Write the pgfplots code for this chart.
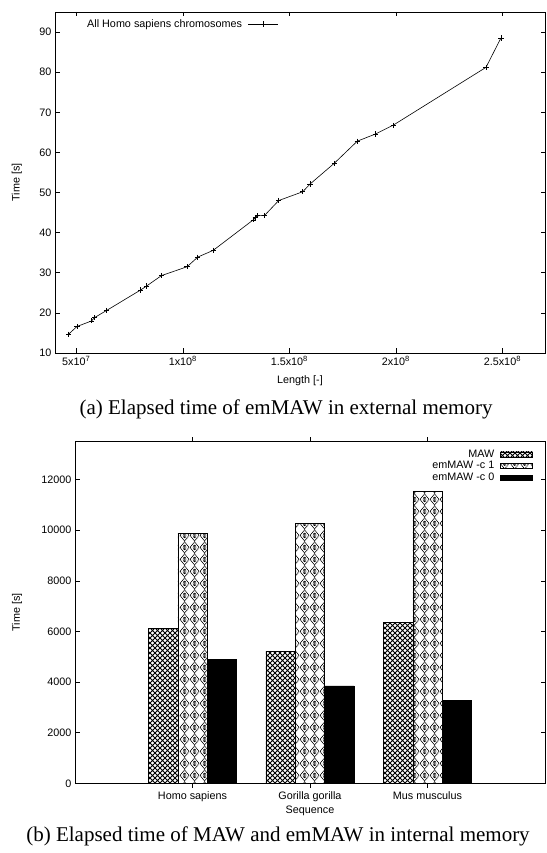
\documentclass[border=0pt]{standalone}
\usepackage{fontspec}
\setmainfont{Liberation Serif}
\newfontfamily\hv{Liberation Sans}
\usepackage{pgfplots}
\pgfplotsset{compat=1.18}
\usetikzlibrary{patterns}

% diagonal cross-hatch used for MAW
\pgfdeclarepatternformonly{xhatch}{\pgfqpoint{-1pt}{-1pt}}{\pgfqpoint{6pt}{6pt}}{\pgfqpoint{5pt}{5pt}}{%
  \pgfsetlinewidth{0.9pt}%
  \pgfpathmoveto{\pgfqpoint{0pt}{0pt}}\pgfpathlineto{\pgfqpoint{5pt}{5pt}}%
  \pgfpathmoveto{\pgfqpoint{0pt}{5pt}}\pgfpathlineto{\pgfqpoint{5pt}{0pt}}%
  \pgfusepath{stroke}}

% dotted diamonds used for emMAW -c 1
\pgfdeclarepatternformonly{dmd}{\pgfqpoint{0pt}{0pt}}{\pgfqpoint{10pt}{12pt}}{\pgfqpoint{10pt}{12pt}}{%
  \pgfsetlinewidth{1pt}%
  \pgfsetdash{{0.9pt}{0.8pt}}{0pt}%
  \pgfpathmoveto{\pgfqpoint{5pt}{0pt}}%
  \pgfpathlineto{\pgfqpoint{10pt}{6pt}}%
  \pgfpathlineto{\pgfqpoint{5pt}{12pt}}%
  \pgfpathlineto{\pgfqpoint{0pt}{6pt}}%
  \pgfpathclose
  \pgfusepath{stroke}%
  \pgfsetdash{}{0pt}%
  \pgfsetlinewidth{0.5pt}%
  \pgfpathellipse{\pgfqpoint{5pt}{6pt}}{\pgfqpoint{1.6pt}{0pt}}{\pgfqpoint{0pt}{2.6pt}}%
  \pgfpathmoveto{\pgfqpoint{5pt}{3.6pt}}\pgfpathlineto{\pgfqpoint{5pt}{8.4pt}}%
  \pgfusepath{stroke}}

\pgfplotsset{
  gp/.style={
    scale only axis,
    anchor=south west,
    axis line style={line width=0.8pt},
    tick style={line width=0.6pt, black},
    major tick length=4.5pt,
    font=\hv\fontsize{10.8}{13}\selectfont,
    /pgf/number format/assume math mode=true,
    ticklabel style={font=\hv\fontsize{10.8}{13}\selectfont},
    yticklabel style={/pgf/number format/1000 sep={}},
    scaled ticks=false,
  },
}

\begin{document}
\begin{tikzpicture}
\useasboundingbox (0,0) rectangle (546pt,853pt);

% (a) external memory
\begin{axis}[gp,
  at={(55pt,500pt)}, width=490pt, height=341pt,
  xmin=4e7, xmax=2.7e8, ymin=10, ymax=95,
  xtick={5e7,1e8,1.5e8,2e8,2.5e8},
  xticklabels={5x10\textsuperscript{7},1x10\textsuperscript{8},1.5x10\textsuperscript{8},2x10\textsuperscript{8},2.5x10\textsuperscript{8}},
  ytick={10,20,...,90},
  xlabel={Length [-]}, ylabel={Time [s]},
  every axis x label/.style={at={(axis description cs:0.5,-0.082)}, anchor=center},
  every axis y label/.style={at={(axis description cs:-0.078,0.5)}, rotate=90, anchor=center},
  legend style={at={(axis description cs:0.463,0.991)}, anchor=north east, draw=none, fill=none,
    font=\hv\fontsize{10.8}{13}\selectfont, column sep=4pt},
  legend plot pos=right,
  legend image code/.code={\draw[mark repeat=2,mark phase=2,#1] plot coordinates {(0pt,0pt) (15pt,0pt) (30pt,0pt)};},
]
\addplot[black, line width=0.6pt, mark=+, mark size=2.6pt] coordinates {
  (4.64e7,14.7) (5.03e7,16.6) (5.72e7,18.0) (5.85e7,18.8) (6.42e7,20.6)
  (8.02e7,25.7) (8.30e7,26.7) (9.00e7,29.3) (1.02e8,31.5) (1.07e8,33.9)
  (1.143e8,35.6) (1.331e8,43.2) (1.340e8,43.7) (1.350e8,44.2) (1.384e8,44.3)
  (1.450e8,48.0) (1.563e8,50.2) (1.597e8,52.1) (1.711e8,57.3) (1.819e8,62.8)
  (1.905e8,64.6) (1.988e8,66.8) (2.423e8,81.2) (2.493e8,88.5)
};
\addlegendentry{All Homo sapiens chromosomes}
\end{axis}

\node[font=\fontsize{21}{25}\selectfont] at (286pt,444pt) {(a) Elapsed time of emMAW in external memory};

% (b) internal memory
\begin{axis}[gp,
  at={(75pt,69.7pt)}, width=470pt, height=341.6pt,
  xmin=-1, xmax=3, ymin=0, ymax=13500,
  xtick={0,1,2}, xticklabels={Homo sapiens,Gorilla gorilla,Mus musculus},
  ytick={0,2000,...,12000},
  xlabel={Sequence}, ylabel={Time [s]},
  every axis x label/.style={at={(axis description cs:0.5,-0.081)}, anchor=center},
  every axis y label/.style={at={(axis description cs:-0.1234,0.5)}, rotate=90, anchor=center},
  ybar, bar width=0.25,
  legend style={at={(axis description cs:0.981,0.988)}, anchor=north east, draw=none, fill=none,
    font=\hv\fontsize{10.8}{11}\selectfont, row sep=-1.5pt, column sep=4pt, cells={anchor=east}},
  legend plot pos=right,
  legend image code/.code={\draw[#1] (0pt,-2.5pt) rectangle (32pt,2.5pt);},
]
\addplot[bar shift=-0.25, draw=black, line width=0.6pt, pattern=xhatch] coordinates {
  (0,6118) (1,5222) (2,6355)
};
\addlegendentry{MAW}
\addplot[bar shift=0, draw=black, line width=0.6pt, pattern=dmd] coordinates {
  (0,9868) (1,10263) (2,11538)
};
\addlegendentry{emMAW -c 1}
\addplot[bar shift=0.25, draw=black, line width=0.6pt, fill=black] coordinates {
  (0,4894) (1,3853) (2,3288)
};
\addlegendentry{emMAW -c 0}
\end{axis}

\node[font=\fontsize{21}{25}\selectfont] at (278pt,17pt) {(b) Elapsed time of MAW and emMAW in internal memory};
\end{tikzpicture}
\end{document}
